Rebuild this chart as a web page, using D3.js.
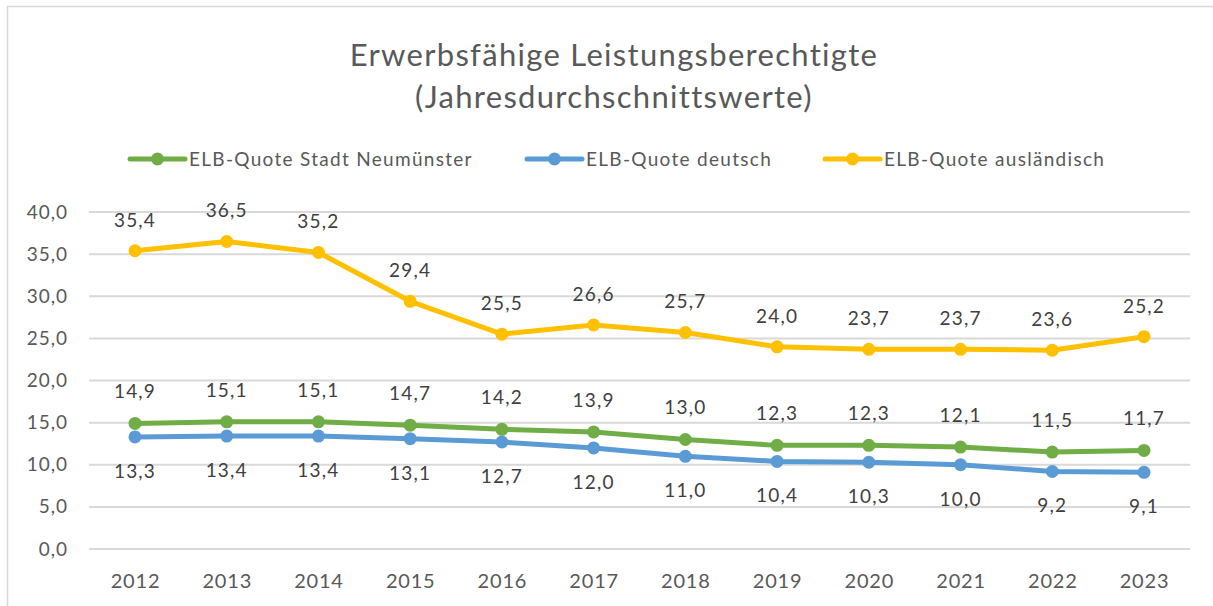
<!DOCTYPE html>
<html>
<head>
<meta charset="utf-8">
<script src="https://cdn.jsdelivr.net/npm/d3@7"></script>
<style>
  body { margin: 0; background: #fff; }
  svg { font-family: Lato, "Open Sans", sans-serif; }
</style>
</head>
<body>
<svg id="chart" width="1213" height="606"></svg>
<script>
// chart data
const years = ["2012", "2013", "2014", "2015", "2016", "2017", "2018", "2019", "2020", "2021", "2022", "2023"];
const stadt = [14.9, 15.1, 15.1, 14.7, 14.2, 13.9, 13.0, 12.3, 12.3, 12.1, 11.5, 11.7];
const deutsch = [13.3, 13.4, 13.4, 13.1, 12.7, 12.0, 11.0, 10.4, 10.3, 10.0, 9.2, 9.1];
const auslaendisch = [35.4, 36.5, 35.2, 29.4, 25.5, 26.6, 25.7, 24.0, 23.7, 23.7, 23.6, 25.2];
const yTicks = [0, 5, 10, 15, 20, 25, 30, 35, 40];

const series = [
    { name: "ELB-Quote Stadt Neumünster", values: stadt, color: "#70AD47", labelDy: -25 },
    { name: "ELB-Quote deutsch", values: deutsch, color: "#5B9BD5", labelDy: 41 },
    { name: "ELB-Quote ausländisch", values: auslaendisch, color: "#FFC000", labelDy: -24 }
];

const svg = d3.select("#chart");
const fmt = v => d3.format(".1f")(v).replace(".", ",");

// outer frame (right and bottom edge lie outside the picture)
svg.append("rect")
    .attr("x", 7.5).attr("y", 6.5)
    .attr("width", 1220).attr("height", 620)
    .attr("fill", "#fff").attr("stroke", "#d9d9d9").attr("stroke-width", 1.5);

// title
svg.append("text")
    .attr("x", 614).attr("y", 66)
    .attr("text-anchor", "middle")
    .style("font-size", "31px").style("letter-spacing", "1.3px").style("fill", "#595959")
    .text("Erwerbsfähige Leistungsberechtigte");
svg.append("text")
    .attr("x", 614).attr("y", 108)
    .attr("text-anchor", "middle")
    .style("font-size", "31px").style("letter-spacing", "1.3px").style("fill", "#595959")
    .text("(Jahresdurchschnittswerte)");

let x = d3.scalePoint().domain(years).range([135, 1144]);
let y = d3.scaleLinear().domain([0, 40]).range([549, 212]);

// gridlines
svg.append("g")
    .selectAll("line")
    .data(yTicks)
    .enter().append("line")
    .attr("x1", 89).attr("x2", 1190)
    .attr("y1", d => y(d)).attr("y2", d => y(d))
    .style("stroke", "#d9d9d9").style("stroke-width", 2);

// y axis labels
let yAxis = svg.append("g")
    .attr("transform", "translate(68,0)")
    .call(d3.axisLeft(y).tickValues(yTicks).tickSize(0).tickPadding(0).tickFormat(fmt));
yAxis.select(".domain").remove();
yAxis.selectAll("text")
    .style("font-size", "19px").style("letter-spacing", "1px").style("fill", "#595959")
    .style("font-family", "Lato, 'Open Sans', sans-serif");

// x axis labels
let xAxis = svg.append("g")
    .attr("transform", "translate(0,588)")
    .call(d3.axisBottom(x).tickSize(0).tickPadding(0));
xAxis.select(".domain").remove();
xAxis.selectAll("text")
    .attr("y", 0).attr("dy", 0)
    .style("font-size", "20px").style("letter-spacing", "0.8px").style("fill", "#595959")
    .style("font-family", "Lato, 'Open Sans', sans-serif");

let line = d3.line()
    .x((d, i) => x(years[i]))
    .y(d => y(d));

series.forEach(function(s) {
    let g = svg.append("g");
    g.append("path")
        .datum(s.values)
        .attr("d", line)
        .style("fill", "none")
        .style("stroke", s.color)
        .style("stroke-width", 5)
        .style("stroke-linejoin", "round");
    g.selectAll("circle")
        .data(s.values)
        .enter().append("circle")
        .attr("cx", (d, i) => x(years[i]))
        .attr("cy", d => y(d))
        .attr("r", 6.5)
        .style("fill", s.color);
    g.selectAll("text")
        .data(s.values)
        .enter().append("text")
        .attr("x", (d, i) => x(years[i]))
        .attr("y", d => y(d) + s.labelDy)
        .attr("text-anchor", "middle")
        .style("font-size", "19px").style("letter-spacing", "1.2px").style("fill", "#404040")
        .text(fmt);
});

// legend
let legendX = [130, 527, 825];
let legend = svg.append("g")
    .selectAll("g")
    .data(series)
    .enter().append("g")
    .attr("transform", (d, i) => "translate(" + legendX[i] + ",159)");
legend.append("line")
    .attr("x1", 0).attr("x2", 55)
    .style("stroke", d => d.color).style("stroke-width", 5)
    .style("stroke-linecap", "round");
legend.append("circle")
    .attr("cx", 27.5).attr("r", 6.5)
    .style("fill", d => d.color);
legend.append("text")
    .attr("x", 59).attr("y", 7)
    .style("font-size", "19px").style("letter-spacing", "1.3px").style("fill", "#595959")
    .text(d => d.name);
</script>
</body>
</html>
